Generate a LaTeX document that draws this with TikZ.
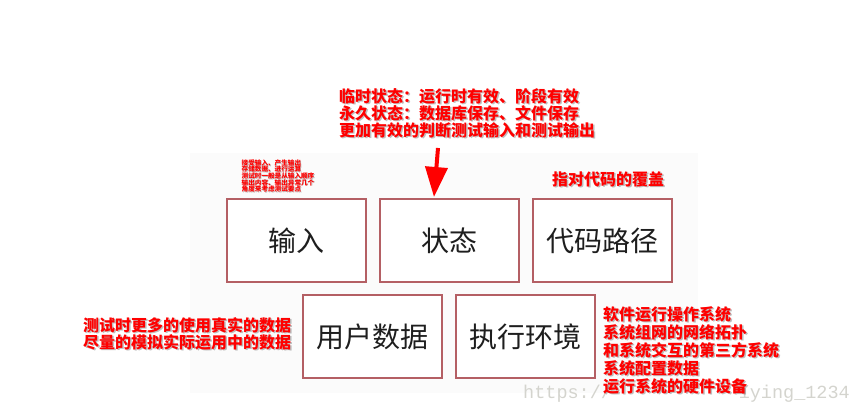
\documentclass[tikz,border=0pt]{standalone}
\usepackage{fontspec}
\newfontfamily\cjk{Noto Sans CJK SC}
\setmonofont{Liberation Mono}
\usetikzlibrary{arrows.meta}
\definecolor{boxred}{RGB}{180,95,100}
\definecolor{ink}{RGB}{30,30,30}
\definecolor{wm}{RGB}{212,212,206}
\definecolor{panel}{RGB}{251,251,251}
\tikzset{
  cbox/.style={draw=boxred, line width=2pt, fill=white, minimum width=139pt, minimum height=83pt,
    inner sep=0pt, text=ink, font=\cjk\fontsize{28}{30}\selectfont},
  note/.style={anchor=west, inner sep=0pt, text=red, font=\cjk\bfseries\fontsize{16}{17}\selectfont},
  noteshadow/.style={note, text=black, opacity=0.25, xshift=1.5pt, yshift=-1.5pt},
  tiny/.style={anchor=west, inner sep=0pt, text=red, font=\cjk\bfseries\fontsize{6.6}{7}\selectfont},
  tinyshadow/.style={tiny, text=black, opacity=0.25, xshift=0.8pt, yshift=-0.8pt},
  wmark/.style={inner sep=0pt, text=wm, font=\ttfamily\fontsize{18.5}{20}\selectfont},
  redarrow/.style={draw=red, fill=red, line width=4pt, -{Triangle[width=22pt,length=30pt]}},
}
\newcommand\rnote[3]{\node[noteshadow] (#1s) at (#2) {#3};\node[note] (#1) at (#2) {#3};}
\newcommand\tnote[3]{\node[tinyshadow] (#1s) at (#2) {#3};\node[tiny] (#1) at (#2) {#3};}
\begin{document}
\begin{tikzpicture}[x=1pt,y=-1pt]
\useasboundingbox (0,0) rectangle (863,411);
\fill[panel] (190,153) rectangle (698,393);
% boxes
\node[cbox] (in)   at (296.5,240.5) {输入};
\node[cbox] (st)   at (449.5,240.5) {状态};
\node[cbox] (code) at (602.5,240.5) {代码路径};
\node[cbox] (user) at (372.5,336.5) {用户数据};
\node[cbox] (env)  at (525.5,336.5) {执行环境};
% watermark (middle part hidden under the red note)
\node[wmark, anchor=west] (wm1) at (523,394) {https://};
\node[wmark, anchor=east] (wm2) at (850,394) {iying\_1234};
% arrow
\coordinate (a0) at (438,148);
\coordinate (a1) at (434,197);
\draw[redarrow] (a0) -- (a1);
% top note
\rnote{t1}{339,96}{临时状态：运行时有效、阶段有效}
\rnote{t2}{339,113}{永久状态：数据库保存、文件保存}
\rnote{t3}{339,130}{更加有效的判断测试输入和测试输出}
% small note
\tnote{s1}{241.5,163}{接受输入、产生输出}
\tnote{s2}{241.5,169.5}{存储数据、进行运算}
\tnote{s3}{241.5,176}{测试时一般是从输入顺序}
\tnote{s4}{241.5,182.5}{输出内容、输出异常几个}
\tnote{s5}{241.5,189}{角度来考虑测试要点}
% code note
\rnote{c1}{552,179}{指对代码的覆盖}
% left note
\rnote{l1}{83,325}{测试时更多的使用真实的数据}
\rnote{l2}{83,342}{尽量的模拟实际运用中的数据}
% right note
\rnote{r1}{603,314}{软件运行操作系统}
\rnote{r2}{603,332}{系统组网的网络拓扑}
\rnote{r3}{603,350}{和系统交互的第三方系统}
\rnote{r4}{603,368}{系统配置数据}
\rnote{r5}{603,386}{运行系统的硬件设备}
\end{tikzpicture}
\end{document}
